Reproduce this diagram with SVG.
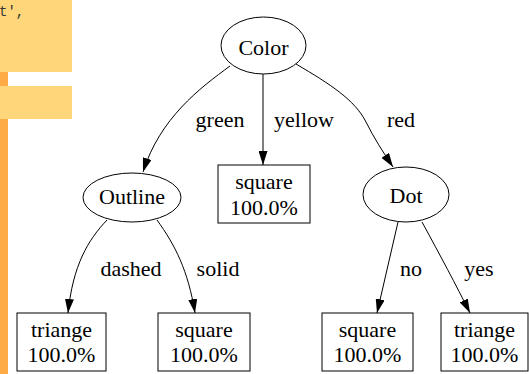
<svg xmlns="http://www.w3.org/2000/svg" width="529" height="374" viewBox="0 0 529 374">
  <style>
    .node ellipse, .node rect { fill: #ffffff; stroke: #000000; stroke-width: 1; }
    .edge path { fill: none; stroke: #000000; stroke-width: 1; }
  </style>
  <defs>
    <marker id="arrow" viewBox="0 0 14 9" refX="14" refY="4.5" markerWidth="14" markerHeight="9" markerUnits="userSpaceOnUse" orient="auto">
      <path d="M0,0 L14,4.5 L0,9 Z" fill="#000000"/>
    </marker>
  </defs>

  <!-- page background with side panel -->
  <rect x="0" y="0" width="529" height="374" fill="#ffffff"/>
  <rect x="0" y="72" width="8" height="302" fill="#ffab45"/>
  <rect x="0" y="0" width="72" height="72" fill="#ffd67a"/>
  <rect x="0" y="86" width="72" height="33" fill="#ffd67a"/>
  <text x="-1" y="16" font-family="Liberation Mono" font-size="14" fill="#333333">t',</text>

  <!-- connectors -->
  <g id="edges" class="edge">
    <path d="M230,66 C200,88 160,118 143,172" marker-end="url(#arrow)"/>
    <path d="M263,74 L263,165" marker-end="url(#arrow)"/>
    <path d="M296,64 C330,84 355,100 366,122 C374,138 383,152 393,167" marker-end="url(#arrow)"/>
    <path d="M107,220 C88,240 73,265 68,313" marker-end="url(#arrow)"/>
    <path d="M157,220 C175,245 188,270 195,313" marker-end="url(#arrow)"/>
    <path d="M398,222 L377,313" marker-end="url(#arrow)"/>
    <path d="M422,222 C440,255 456,285 470,313" marker-end="url(#arrow)"/>
    <text x="220" y="127" font-family="Liberation Serif" font-size="22" text-anchor="middle">green</text>
    <text x="304" y="127" font-family="Liberation Serif" font-size="22" text-anchor="middle">yellow</text>
    <text x="401" y="127" font-family="Liberation Serif" font-size="22" text-anchor="middle">red</text>
    <text x="131" y="276" font-family="Liberation Serif" font-size="22" text-anchor="middle">dashed</text>
    <text x="218" y="276" font-family="Liberation Serif" font-size="22" text-anchor="middle">solid</text>
    <text x="411" y="276" font-family="Liberation Serif" font-size="22" text-anchor="middle">no</text>
    <text x="479" y="276" font-family="Liberation Serif" font-size="22" text-anchor="middle">yes</text>
  </g>

  <!-- decision nodes -->
  <g id="color" class="node">
    <ellipse cx="263.5" cy="45.5" rx="42.5" ry="28.5"/>
    <text x="263.5" y="55" font-family="Liberation Serif" font-size="22" text-anchor="middle">Color</text>
  </g>
  <g id="outline" class="node">
    <ellipse cx="132" cy="197.5" rx="49" ry="24.5"/>
    <text x="132" y="204" font-family="Liberation Serif" font-size="22" text-anchor="middle">Outline</text>
  </g>
  <g id="dot" class="node">
    <ellipse cx="406" cy="194.5" rx="43" ry="27.5"/>
    <text x="406" y="203" font-family="Liberation Serif" font-size="22" text-anchor="middle">Dot</text>
  </g>

  <!-- leaf nodes -->
  <g id="leaf-yellow" class="node">
    <rect x="218" y="165" width="92" height="58"/>
    <text x="264" y="189" font-family="Liberation Serif" font-size="22" text-anchor="middle">square</text>
    <text x="264" y="215" font-family="Liberation Serif" font-size="22" text-anchor="middle">100.0%</text>
  </g>
  <g id="leaf-dashed" class="node">
    <rect x="17" y="313" width="89" height="58"/>
    <text x="61.5" y="337" font-family="Liberation Serif" font-size="22" text-anchor="middle">triange</text>
    <text x="61.5" y="362" font-family="Liberation Serif" font-size="22" text-anchor="middle">100.0%</text>
  </g>
  <g id="leaf-solid" class="node">
    <rect x="158" y="313" width="92" height="58"/>
    <text x="204" y="337" font-family="Liberation Serif" font-size="22" text-anchor="middle">square</text>
    <text x="204" y="362" font-family="Liberation Serif" font-size="22" text-anchor="middle">100.0%</text>
  </g>
  <g id="leaf-no" class="node">
    <rect x="322" y="313" width="91" height="58"/>
    <text x="367.5" y="337" font-family="Liberation Serif" font-size="22" text-anchor="middle">square</text>
    <text x="367.5" y="362" font-family="Liberation Serif" font-size="22" text-anchor="middle">100.0%</text>
  </g>
  <g id="leaf-yes" class="node">
    <rect x="441" y="313" width="87" height="58"/>
    <text x="484.5" y="337" font-family="Liberation Serif" font-size="22" text-anchor="middle">triange</text>
    <text x="484.5" y="362" font-family="Liberation Serif" font-size="22" text-anchor="middle">100.0%</text>
  </g>
</svg>
